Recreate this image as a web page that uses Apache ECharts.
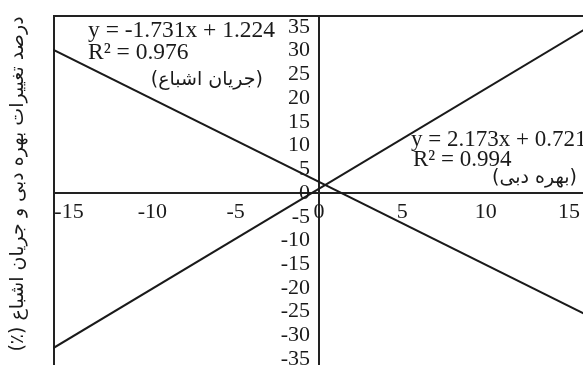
<!DOCTYPE html>
<html>
<head>
<meta charset="utf-8">
<script src="https://cdn.jsdelivr.net/npm/echarts@6/dist/echarts.min.js"></script>
<style>
  html, body { margin: 0; padding: 0; background: #fff; }
  #trend-chart { width: 583px; height: 365px; }
</style>
</head>
<body>
<div id="trend-chart"></div>
<script>
    // ------------------------------
    // Data
    // ------------------------------
    var xTicks = [-15, -10, -5, 0, 5, 10, 15];
    var yTicks = [-35, -30, -25, -20, -15, -10, -5, 0, 5, 10, 15, 20, 25, 30, 35];

    // trend line end points [x, y]
    var saturationLine = [[-16, 30.3], [16, -25.6]];   // جریان اشباع
    var dischargeLine = [[-16, -32.8], [16, 34.6]];    // بهره دبی

    var saturationText = ['y = -1.731x + 1.224', 'R\u00b2 = 0.976', '(جریان اشباع)'];
    var dischargeText = ['y = 2.173x + 0.721', 'R\u00b2 = 0.994', '(بهره دبی)'];
    var yTitle = 'درصد تغییرات بهره دبی و جریان اشباع (٪)';

    var numFont = '"Liberation Serif", "Times New Roman", serif';
    var faFont = '"DejaVu Sans", sans-serif';
    var ink = '#1a1a1a';

    // right-to-left embedding so the "(٪)" ends up at the far end
    function rtl(s) {
        return '\u202B' + s + '\u202C';
    }

    var trendChart = echarts.init(document.getElementById('trend-chart'));

    var option = {
        animation: false,
        backgroundColor: '#fff',

        // Setup grid (bottom and right run past the picture)
        grid: {
            left: 54,
            top: 16,
            width: 530,
            height: 354,
            outerBoundsMode: 'none',
            containLabel: false,
            show: true,
            borderColor: '#222',
            borderWidth: 2
        },

        // Horizontal axis, moved up to y = 0
        xAxis: {
            type: 'value',
            min: -15.9,
            max: 15.9,
            position: 'bottom',
            offset: -177.2,
            axisLine: { onZero: false, lineStyle: { color: '#222', width: 2 } },
            axisTick: { show: false },
            splitLine: { show: false },
            axisLabel: {
                customValues: xTicks,
                margin: 8,
                color: ink,
                fontFamily: numFont,
                fontSize: 22
            }
        },

        // Vertical axis, moved right to x = 0
        yAxis: {
            type: 'value',
            min: -37.3,
            max: 37.3,
            position: 'left',
            offset: -265,
            axisLine: { onZero: false, lineStyle: { color: '#222', width: 2 } },
            axisTick: { show: false },
            splitLine: { show: false },
            axisLabel: {
                customValues: yTicks,
                margin: 9,
                color: ink,
                fontFamily: numFont,
                fontSize: 22
            }
        },

        // Add series
        series: [
            {
                name: 'جریان اشباع',
                type: 'line',
                data: saturationLine,
                symbol: 'none',
                clip: true,
                lineStyle: { color: ink, width: 2 }
            },
            {
                name: 'بهره دبی',
                type: 'line',
                data: dischargeLine,
                symbol: 'none',
                clip: true,
                lineStyle: { color: ink, width: 2 }
            }
        ],

        // Equations and axis title
        graphic: [
            { type: 'text', x: 88, y: 31, style: { text: saturationText[0], font: '23.5px ' + numFont, fill: ink, align: 'left', verticalAlign: 'middle' } },
            { type: 'text', x: 88, y: 53, style: { text: saturationText[1], font: '23.5px ' + numFont, fill: ink, align: 'left', verticalAlign: 'middle' } },
            { type: 'text', x: 263, y: 80, style: { text: saturationText[2], font: '19px ' + faFont, fill: ink, align: 'right', verticalAlign: 'middle' } },
            { type: 'text', x: 411, y: 140, style: { text: dischargeText[0], font: '23px ' + numFont, fill: ink, align: 'left', verticalAlign: 'middle' } },
            { type: 'text', x: 413, y: 160, style: { text: dischargeText[1], font: '23px ' + numFont, fill: ink, align: 'left', verticalAlign: 'middle' } },
            { type: 'text', x: 577, y: 178, style: { text: dischargeText[2], font: '19px ' + faFont, fill: ink, align: 'right', verticalAlign: 'middle' } },
            { type: 'text', x: 18, y: 184, rotation: Math.PI / 2, style: { text: rtl(yTitle), font: '19px ' + faFont, fill: ink, align: 'center', verticalAlign: 'middle' } }
        ]
    };
    trendChart.setOption(option);
</script>
</body>
</html>
